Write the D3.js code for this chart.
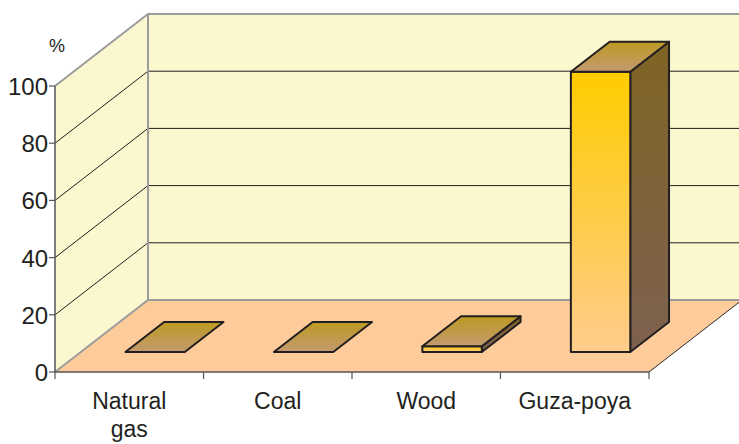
<!DOCTYPE html>
<html>
<head>
<meta charset="utf-8">
<script src="https://cdn.jsdelivr.net/npm/d3@7"></script>
<style>
  html, body { margin: 0; padding: 0; background: #fff; }
  svg { display: block; }
  text { font-family: "Liberation Sans", Arial, sans-serif; fill: #231f20; }
</style>
</head>
<body>
<svg id="chart" width="739" height="444"></svg>
<script>
// Share of fuel used (%)
const categories = ["Natural gas", "Coal", "Wood", "Guza-poya"];
const shares = [0, 0, 2, 98];
const yTicks = [0, 20, 40, 60, 80, 100];
const yUnit = "%";

const svg = d3.select("#chart");
const W = 739, H = 444;

// Front plane of the 3-D box and its depth offset
const x0 = 55, x1 = 649;
const y = d3.scaleLinear().domain([0, 100]).range([372, 86]);
const depthX = 93, depthY = -72;
const proj = (px, py, z) => [px + depthX * z, py + depthY * z];

const xCat = d3.scaleBand().domain(categories).range([x0, x1]).padding(0);
const xBar = d3.scaleBand().domain(categories).range([x0, x1])
  .paddingInner(0.6).paddingOuter(0.3).align(0.5);

// bars sit between these depth fractions
const zFront = 20 / 72, zBack = 50 / 72;

const defs = svg.append("defs");
function vGrad(id, stops) {
  const g = defs.append("linearGradient").attr("id", id)
    .attr("x1", 0).attr("y1", 0).attr("x2", 0).attr("y2", 1);
  stops.forEach(([o, c]) => g.append("stop").attr("offset", o).attr("stop-color", c));
}
vGrad("gFront", [[0, "#ffcc00"], [1, "#ffcc8c"]]);
vGrad("gTop", [[0, "#bd9a22"], [1, "#c39a70"]]);
vGrad("gSide", [[0, "#7f6424"], [1, "#7d6150"]]);

const wallFill = "#fbf8d0";
const floorFill = "#fecc9a";
const frame = "#9c9c9c";

const line = d3.line();

// back wall
const bTop = proj(x0, y(100), 1), bBot = proj(x0, y(0), 1);
svg.append("rect")
  .attr("x", bTop[0]).attr("y", bTop[1])
  .attr("width", W - bTop[0] + 5).attr("height", bBot[1] - bTop[1])
  .attr("fill", wallFill);

// side wall
svg.append("path")
  .attr("d", line([[x0, y(100)], proj(x0, y(100), 1), proj(x0, y(0), 1), [x0, y(0)]]) + "Z")
  .attr("fill", wallFill);

// floor
svg.append("path")
  .attr("d", line([[x0, y(0)], [x1, y(0)], proj(x1, y(0), 1), proj(x0, y(0), 1)]) + "Z")
  .attr("fill", floorFill);

// gridlines on side and back walls
const inner = yTicks.filter(t => t > 0 && t < 100);
svg.append("g").selectAll("path").data(inner).join("path")
  .attr("d", t => line([[x0, y(t)], proj(x0, y(t), 1), [W + 5, proj(x0, y(t), 1)[1]]]))
  .attr("fill", "none").attr("stroke", "#1e1e1e").attr("stroke-width", 1);

// wall frame
svg.append("path")
  .attr("d", line([[x0, y(100)], proj(x0, y(100), 1), [W + 5, proj(x0, y(100), 1)[1]]]))
  .attr("fill", "none").attr("stroke", frame).attr("stroke-width", 2);
svg.append("path")
  .attr("d", line([proj(x0, y(100), 1), proj(x0, y(0), 1)]))
  .attr("fill", "none").attr("stroke", frame).attr("stroke-width", 2);
svg.append("path")
  .attr("d", line([[x0, y(0)], proj(x0, y(0), 1), [W + 5, proj(x0, y(0), 1)[1]]]))
  .attr("fill", "none").attr("stroke", frame).attr("stroke-width", 2);

// floor right edge
svg.append("path")
  .attr("d", line([[x1, y(0)], proj(x1, y(0), 1)]))
  .attr("fill", "none").attr("stroke", "#2a2a2a").attr("stroke-width", 1);

// bars
const bars = svg.append("g").selectAll("g").data(categories.map((c, i) => ({ c, v: shares[i] })))
  .join("g");

bars.each(function (d) {
  const g = d3.select(this);
  const bx = xBar(d.c), bw = xBar.bandwidth();
  const fl = proj(bx, y(0), zFront), fr = proj(bx + bw, y(0), zFront);
  const tl = proj(bx, y(d.v), zFront), tr = proj(bx + bw, y(d.v), zFront);
  const btl = proj(bx, y(d.v), zBack), btr = proj(bx + bw, y(d.v), zBack);
  const bbr = proj(bx + bw, y(0), zBack);
  const st = { stroke: "#231f20", "stroke-width": 2, "stroke-linejoin": "round" };
  const face = (pts, fill) => {
    const p = g.append("path").attr("d", line(pts) + "Z").attr("fill", fill);
    Object.entries(st).forEach(([k, v]) => p.attr(k, v));
  };
  if (d.v > 0) {
    face([tr, btr, bbr, fr], "url(#gSide)");
    face([tl, tr, fr, fl], "url(#gFront)");
  }
  face([tl, tr, btr, btl], "url(#gTop)");
});

// x axis
svg.append("path")
  .attr("d", line([[x0, y(0)], [x1, y(0)]]))
  .attr("stroke", "#555").attr("stroke-width", 1.5).attr("fill", "none");
const xTickPos = categories.map(c => xCat(c)).concat([x1]);
svg.append("g").selectAll("line").data(xTickPos).join("line")
  .attr("x1", d => d).attr("x2", d => d)
  .attr("y1", y(0)).attr("y2", y(0) + 7)
  .attr("stroke", "#555").attr("stroke-width", 1.2);

// y axis
svg.append("path")
  .attr("d", line([[x0, y(100)], [x0, y(0)]]))
  .attr("stroke", "#555").attr("stroke-width", 1.5).attr("fill", "none");
svg.append("g").selectAll("line").data(yTicks).join("line")
  .attr("x1", x0 - 6).attr("x2", x0)
  .attr("y1", d => y(d)).attr("y2", d => y(d))
  .attr("stroke", "#555").attr("stroke-width", 1.2);
svg.append("g").selectAll("text").data(yTicks).join("text")
  .attr("x", x0 - 7).attr("y", d => y(d) + 9)
  .attr("text-anchor", "end").attr("font-size", 24)
  .attr("textLength", d => String(d).length * 13.3)
  .text(d => d);
svg.append("text").attr("x", 57).attr("y", 52)
  .attr("text-anchor", "middle").attr("font-size", 18)
  .attr("textLength", 13).text(yUnit);

// category labels
const labelLines = { "Natural gas": ["Natural", "gas"] };
svg.append("g").selectAll("text").data(categories).join("text")
  .attr("text-anchor", "middle").attr("font-size", 23)
  .attr("x", c => xCat(c) + xCat.bandwidth() / 2)
  .attr("y", 409)
  .each(function (c) {
    const parts = labelLines[c] || [c];
    d3.select(this).selectAll("tspan").data(parts).join("tspan")
      .attr("x", xCat(c) + xCat.bandwidth() / 2)
      .attr("dy", (p, i) => i === 0 ? 0 : 28)
      .text(p => p);
  });
</script>
</body>
</html>
